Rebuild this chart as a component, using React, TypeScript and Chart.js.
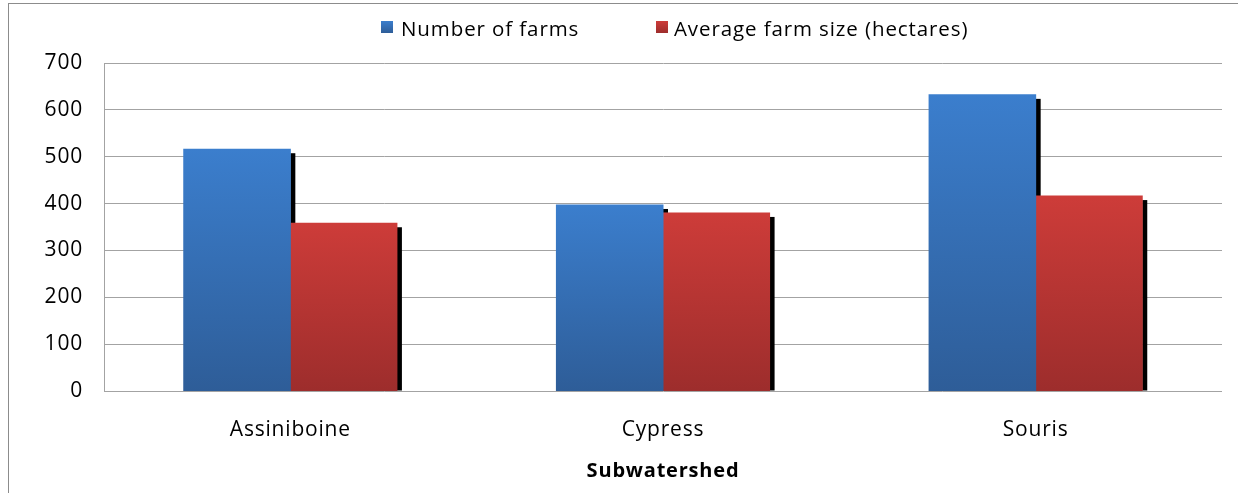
import React, { useEffect, useRef } from "react";
import { Chart, registerables } from "chart.js";

Chart.register(...registerables);

// Farm statistics by subwatershed
const categories = ["Assiniboine", "Cypress", "Souris"];
const numberOfFarms = [516, 397, 632];
const averageFarmSize = [358, 380, 416];
const seriesLabels = ["Number of farms", "Average farm size (hectares)"];
const axisTitle = "Subwatershed";
const yMin = 0;
const yMax = 700;
const yStep = 100;

const FONT = "'Open Sans', 'Liberation Sans', sans-serif";

const BLUE_TOP = "#3b7ecd";
const BLUE_BOTTOM = "#2e5d98";
const RED_TOP = "#cd3c39";
const RED_BOTTOM = "#9d2d2c";

// Vertical gradient running from the top of each bar down to its base
function barGradient(top: string, bottom: string) {
  return (context: any) => {
    const chart = context.chart;
    const yScale = chart.scales && chart.scales.y;
    if (!yScale || context.type !== "data") return top;
    const yTop = yScale.getPixelForValue(context.raw);
    const yBase = yScale.getPixelForValue(0);
    if (!isFinite(yTop) || !isFinite(yBase) || yTop === yBase) return top;
    const g = chart.ctx.createLinearGradient(0, yTop, 0, yBase);
    g.addColorStop(0, top);
    g.addColorStop(1, bottom);
    return g;
  };
}

// Hard black drop shadow strip along the right side of every bar.
// Where the neighbouring bar of the same group sits against it, the strip
// stops at that bar's top so no seam shows between the two bars.
const barShadow = {
  id: "barShadow",
  beforeDatasetsDraw(chart: any) {
    const ctx = chart.ctx;
    const count = chart.data.datasets.length;
    ctx.save();
    ctx.fillStyle = "#000000";
    for (let i = 0; i < count; i++) {
      const meta = chart.getDatasetMeta(i);
      const nextMeta = i + 1 < count ? chart.getDatasetMeta(i + 1) : null;
      meta.data.forEach((bar: any, j: number) => {
        const { x, y, base, width } = bar.getProps(["x", "y", "base", "width"], true);
        const right = x + width / 2;
        let bottom = base;
        if (nextMeta && nextMeta.data[j]) {
          const nb = nextMeta.data[j].getProps(["y"], true);
          bottom = Math.min(base, nb.y);
        }
        const top = y + 4;
        if (bottom > top) ctx.fillRect(right, top, 5, bottom - top);
      });
    }
    ctx.restore();
  },
};

// Slightly open letter spacing for all canvas text
const textSpacing = {
  id: "textSpacing",
  beforeDraw(chart: any) {
    chart.ctx.letterSpacing = "0.8px";
  },
};

function LegendItem(props: { left: number; textLeft: number; top: string; bottom: string; label: string }) {
  return (
    <>
      <div
        style={{
          position: "absolute",
          left: props.left,
          top: 21,
          width: 12,
          height: 12,
          background: `linear-gradient(${props.top}, ${props.bottom})`,
        }}
      />
      <div
        style={{
          position: "absolute",
          left: props.textLeft,
          top: 13,
          height: 30,
          lineHeight: "30px",
          fontFamily: FONT,
          fontSize: 20.5,
          letterSpacing: "0.9px",
          color: "#000",
          whiteSpace: "nowrap",
        }}
      >
        {props.label}
      </div>
    </>
  );
}

export default function App() {
  const canvasRef = useRef<HTMLCanvasElement | null>(null);

  useEffect(() => {
    if (!canvasRef.current) return;
    const chart = new Chart(canvasRef.current, {
      type: "bar",
      data: {
        labels: categories,
        datasets: [
          {
            label: seriesLabels[0],
            data: numberOfFarms,
            backgroundColor: barGradient(BLUE_TOP, BLUE_BOTTOM),
            borderWidth: 0,
            inflateAmount: 0.5,
            categoryPercentage: 0.572,
            barPercentage: 1,
          },
          {
            label: seriesLabels[1],
            data: averageFarmSize,
            backgroundColor: barGradient(RED_TOP, RED_BOTTOM),
            borderWidth: 0,
            inflateAmount: 0.5,
            categoryPercentage: 0.572,
            barPercentage: 1,
          },
        ],
      },
      options: {
        responsive: false,
        animation: false,
        layout: { padding: { top: 63, right: 16, left: 0, bottom: 0 } },
        plugins: {
          legend: { display: false },
          tooltip: { enabled: false },
        },
        scales: {
          x: {
            grid: { display: false, drawTicks: false },
            border: { display: false },
            ticks: {
              color: "#000",
              padding: 26,
              font: { family: FONT, size: 21 },
            },
            title: {
              display: true,
              text: axisTitle,
              color: "#000",
              font: { family: FONT, size: 20, weight: "bold" },
              padding: { top: 0, bottom: 10 },
            },
            afterFit(scale: any) {
              scale.height = 102;
            },
          },
          y: {
            min: yMin,
            max: yMax,
            grid: { color: "#a3a3a3", lineWidth: 1, drawTicks: false },
            border: { display: true, color: "#a3a3a3", width: 1 },
            ticks: {
              stepSize: yStep,
              color: "#000",
              padding: 21,
              font: { family: FONT, size: 21 },
            },
            afterFit(scale: any) {
              scale.width = 104;
            },
          },
        },
      },
      plugins: [textSpacing, barShadow],
    });
    return () => chart.destroy();
  }, []);

  return (
    <div
      style={{
        position: "fixed",
        left: 0,
        top: 0,
        width: 1238,
        height: 493,
        background: "#ffffff",
        overflow: "hidden",
      }}
    >
      <canvas ref={canvasRef} width={1238} height={493} style={{ position: "absolute", left: 0, top: 0 }} />
      <div
        style={{
          position: "absolute",
          left: 8,
          top: 3,
          width: 1260,
          height: 520,
          borderTop: "1px solid #8c8c8c",
          borderLeft: "1px solid #8c8c8c",
          pointerEvents: "none",
        }}
      />
      <LegendItem left={381} textLeft={401} top={BLUE_TOP} bottom={BLUE_BOTTOM} label={seriesLabels[0]} />
      <LegendItem left={656} textLeft={674} top={RED_TOP} bottom={RED_BOTTOM} label={seriesLabels[1]} />
    </div>
  );
}
